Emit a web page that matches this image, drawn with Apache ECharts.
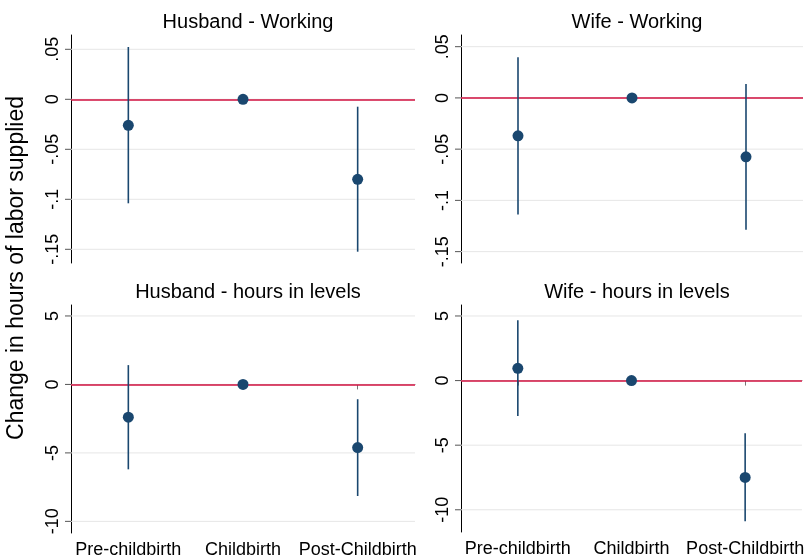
<!DOCTYPE html>
<html><head><meta charset="utf-8">
<script src="https://cdn.jsdelivr.net/npm/echarts@6/dist/echarts.min.js"></script>
<style>html,body{margin:0;padding:0;background:#fff}#c{width:807px;height:560px}</style>
</head><body><div id="c"></div>
<script>
// ---- data ----
const categories = ['Pre-childbirth', 'Childbirth', 'Post-Childbirth'];

const titles = ['Husband - Working', 'Wife - Working', 'Husband - hours in levels', 'Wife - hours in levels'];
const yTitle = 'Change in hours of labor supplied';

// point estimates and 95% CI bounds
const hwEst = [-0.026, 0, -0.080];
const hwLo  = [-0.104, null, -0.1524];
const hwHi  = [0.0523, null, -0.0074];

const wwEst = [-0.037, 0, -0.0575];
const wwLo  = [-0.1137, null, -0.1287];
const wwHi  = [0.0396, null, 0.0136];

const hhEst = [-2.39, 0, -4.61];
const hhLo  = [-6.20, null, -8.15];
const hhHi  = [1.41, null, -1.08];

const whEst = [0.95, 0, -7.5];
const whLo  = [-2.74, null, -10.88];
const whHi  = [4.66, null, -4.08];

// tick values / labels
const workTicks = [0.05, 0, -0.05, -0.1, -0.15];
const workTickLabels = ['.05', '0', '-.05', '-.1', '-.15'];
const hourTicks = [5, 0, -5, -10];
const hourTickLabels = ['5', '0', '-5', '-10'];

// axis ranges (Stata plot region incl. margins)
const hwRange = [-0.1637, 0.0643];
const wwRange = [-0.1611, 0.0614];
const hhRange = [-10.85, 5.80];
const whRange = [-11.72, 5.85];

// ---- chart ----
const FONT = '"Liberation Sans", Arial, Helvetica, sans-serif';
const NAVY = '#1a476f';
const RED = '#d0103f';

const panels = [
  {est: hwEst, lo: hwLo, hi: hwHi, ticks: workTicks, labels: workTickLabels, range: hwRange, grid: {left: 71, top: 35, width: 344, height: 228}, showX: false},
  {est: wwEst, lo: wwLo, hi: wwHi, ticks: workTicks, labels: workTickLabels, range: wwRange, grid: {left: 461, top: 35, width: 342, height: 228}, showX: false},
  {est: hhEst, lo: hhLo, hi: hhHi, ticks: hourTicks, labels: hourTickLabels, range: hhRange, grid: {left: 71, top: 305, width: 344, height: 228}, showX: true},
  {est: whEst, lo: whLo, hi: whHi, ticks: hourTicks, labels: hourTickLabels, range: whRange, grid: {left: 461, top: 305, width: 342, height: 227}, showX: true}
];
const titleTops = [7, 7, 277, 277];

const option = {
  backgroundColor: '#fff',
  animation: false,
  title: [],
  grid: [],
  xAxis: [],
  yAxis: [],
  series: [],
  graphic: [{
    type: 'text', x: 17, y: 268, rotation: Math.PI / 2,
    style: {text: yTitle, font: '23px ' + FONT, fill: '#000', textAlign: 'center', textVerticalAlign: 'middle'}
  }]
};

panels.forEach((p, i) => {
  option.grid.push(Object.assign({containLabel: false}, p.grid));
  option.title.push({
    text: titles[i], left: p.grid.left + p.grid.width / 2, top: titleTops[i], textAlign: 'center',
    textStyle: {fontFamily: FONT, fontSize: 20, fontWeight: 'normal', color: '#000'}
  });
  option.xAxis.push({
    type: 'category', gridIndex: i, data: categories, boundaryGap: true,
    axisLine: {show: p.showX, lineStyle: {color: '#777', width: 1}},
    axisTick: {show: p.showX, alignWithLabel: true, length: 5, lineStyle: {color: '#777'}},
    axisLabel: {show: p.showX, color: '#000', fontFamily: FONT, fontSize: 18, margin: 8, interval: 0},
    splitLine: {show: false}
  });
  option.yAxis.push({
    type: 'value', gridIndex: i, min: p.range[0], max: p.range[1],
    axisLine: {show: true, onZero: false, lineStyle: {color: '#000', width: 1}},
    axisTick: {show: false}, axisLabel: {show: false}, splitLine: {show: false}
  });
  // gridlines, ticks and tick labels drawn from tick arrays through the axis scale
  const labels = p.labels;
  option.series.push({
    type: 'custom', xAxisIndex: i, yAxisIndex: i, z: 1, silent: true,
    data: p.ticks.map(t => [1, t]),
    renderItem: (params, api) => {
      const cs = params.coordSys;
      const y = api.coord([1, api.value(1)])[1];
      return {type: 'group', children: [
        {type: 'line', shape: {x1: cs.x, y1: y, x2: cs.x + cs.width, y2: y}, style: {stroke: '#e6e6e6', lineWidth: 1}},
        {type: 'line', shape: {x1: cs.x - 6, y1: y, x2: cs.x, y2: y}, style: {stroke: '#555', lineWidth: 1}},
        {type: 'text', x: cs.x - 9, y: y, rotation: Math.PI / 2,
          style: {text: labels[params.dataIndex], font: '18px ' + FONT, fill: '#000', textAlign: 'center', textVerticalAlign: 'bottom'}}
      ]};
    }
  });
  // confidence intervals
  const ci = [];
  p.lo.forEach((lo, k) => { if (lo !== null) ci.push([k, lo, p.hi[k]]); });
  option.series.push({
    type: 'custom', xAxisIndex: i, yAxisIndex: i, z: 3, silent: true,
    data: ci,
    renderItem: (params, api) => {
      const a = api.coord([api.value(0), api.value(1)]);
      const b = api.coord([api.value(0), api.value(2)]);
      return {type: 'line', shape: {x1: a[0], y1: a[1], x2: b[0], y2: b[1]}, style: {stroke: NAVY, lineWidth: 1.6}};
    }
  });
  // point estimates + zero line
  option.series.push({
    type: 'scatter', xAxisIndex: i, yAxisIndex: i, z: 4, silent: true,
    data: p.est.map((v, k) => [k, v]),
    symbol: 'circle', symbolSize: 11, itemStyle: {color: NAVY, opacity: 1},
    markLine: {
      silent: true, symbol: 'none', label: {show: false}, z: 2,
      lineStyle: {color: RED, width: 1.5, type: 'solid'},
      data: [{yAxis: 0}]
    }
  });
});

const chart = echarts.init(document.getElementById('c'), null, {renderer: 'canvas'});
chart.setOption(option);
</script></body></html>
